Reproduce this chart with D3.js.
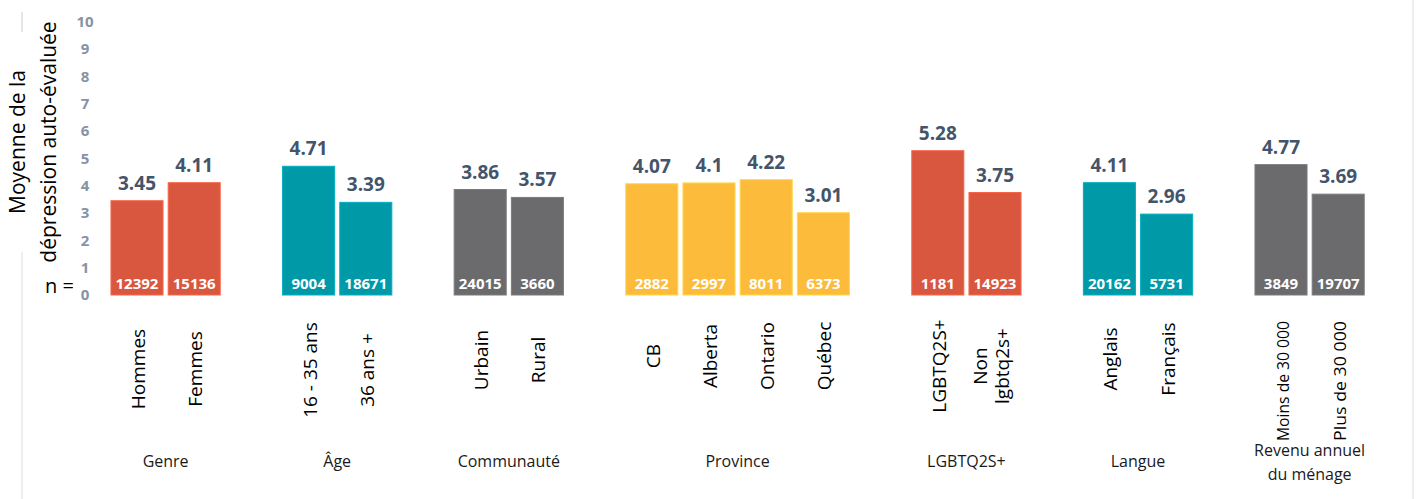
<!DOCTYPE html>
<html>
<head>
<meta charset="utf-8">
<script src="https://cdn.jsdelivr.net/npm/d3@7"></script>
<style>
  body { margin: 0; background: #fff; }
  text { font-family: "Open Sans", "Noto Sans", sans-serif; }
</style>
</head>
<body>
<script>
// data
var groups = ["Genre", "Âge", "Communauté", "Province", "LGBTQ2S+", "Langue", "Revenu annuel\ndu ménage"];
var categories = ["Hommes", "Femmes", "16 - 35 ans", "36 ans +", "Urbain", "Rural",
    "CB", "Alberta", "Ontario", "Québec", "LGBTQ2S+", "Non\nlgbtq2s+",
    "Anglais", "Français", "Moins de 30 000", "Plus de 30 000"];
var categoryGroup = [0, 0, 1, 1, 2, 2, 3, 3, 3, 3, 4, 4, 5, 5, 6, 6];
var means = [3.45, 4.11, 4.71, 3.39, 3.86, 3.57, 4.07, 4.1, 4.22, 3.01, 5.28, 3.75, 4.11, 2.96, 4.77, 3.69];
var counts = [12392, 15136, 9004, 18671, 24015, 3660, 2882, 2997, 8011, 6373, 1181, 14923, 20162, 5731, 3849, 19707];
var yTicks = [0, 1, 2, 3, 4, 5, 6, 7, 8, 9, 10];

// styling
var groupColors = ["#d9573f", "#0099a7", "#6b6b6e", "#fdbb3c", "#d9573f", "#0099a7", "#6b6b6e"];
var labelCenterY = [369, 370, 360, 356, 366, 359, 381];

var svgWidth = 1416;
var svgHeight = 499;

var svg = d3.select("body").append("svg")
    .attr("width", svgWidth)
    .attr("height", svgHeight);

svg.append("rect").attr("width", svgWidth).attr("height", svgHeight).attr("fill", "#fff");

// build slots: categories with an empty slot between groups
var rows = categories.map(function (c, i) {
    return { key: c, name: c, group: categoryGroup[i], mean: means[i], n: counts[i] };
});
var slots = [];
groups.forEach(function (g, gi) {
    rows.filter(function (r) { return r.group === gi; }).forEach(function (r) { slots.push(r.key); });
    if (gi < groups.length - 1) slots.push("gap" + gi);
});

var xScale = d3.scaleBand()
    .domain(slots)
    .range([108.4, 1366.8])
    .paddingInner(0.09)
    .paddingOuter(0.045);

var yScale = d3.scaleLinear()
    .domain([0, 10])
    .range([295, 21.7]);

// y axis (numbers only)
var yAxis = svg.append("g")
    .attr("transform", "translate(85,0)")
    .call(d3.axisLeft(yScale).tickValues(yTicks).tickSize(0).tickPadding(0));
yAxis.select(".domain").remove();
yAxis.selectAll("text")
    .attr("x", 0)
    .attr("text-anchor", "middle")
    .attr("fill", "#8792a5")
    .style("font-size", "15px")
    .style("font-weight", "bold")
    .style("font-family", "'Open Sans', sans-serif");

// axis title
var title = svg.append("text")
    .attr("transform", "translate(0,142) rotate(-90)")
    .attr("text-anchor", "middle")
    .style("font-size", "21px")
    .attr("fill", "#000");
title.append("tspan").attr("x", 0).attr("y", 25).text("Moyenne de la");
title.append("tspan").attr("x", 0).attr("y", 56).text("dépression auto-évaluée");

svg.append("text")
    .attr("x", 74).attr("y", 293)
    .attr("text-anchor", "end")
    .style("font-size", "20px")
    .attr("fill", "#000")
    .text("n =");

// bars
var bars = svg.append("g").selectAll("g")
    .data(rows)
    .enter()
    .append("g");

bars.append("rect")
    .attr("x", function (d) { return xScale(d.key); })
    .attr("y", function (d) { return yScale(d.mean); })
    .attr("width", xScale.bandwidth())
    .attr("height", function (d) { return yScale(0) - yScale(d.mean); })
    .attr("fill", function (d) { return groupColors[d.group]; })
    .attr("stroke", function (d) { return d3.color(groupColors[d.group]).brighter(0.4); })
    .attr("stroke-width", 1);

bars.append("text")
    .attr("x", function (d) { return xScale(d.key) + xScale.bandwidth() / 2; })
    .attr("y", function (d) { return yScale(d.mean) - 11; })
    .attr("text-anchor", "middle")
    .attr("fill", "#44546a")
    .style("font-size", "19px")
    .style("font-weight", "bold")
    .text(function (d) { return d.mean; });

bars.append("text")
    .attr("x", function (d) { return xScale(d.key) + xScale.bandwidth() / 2; })
    .attr("y", yScale(0) - 6)
    .attr("text-anchor", "middle")
    .attr("fill", "#fff")
    .style("font-size", "15px")
    .style("font-weight", "bold")
    .text(function (d) { return d.n; });

// category labels (rotated)
var catLabels = svg.append("g").selectAll("text")
    .data(rows)
    .enter()
    .append("text")
    .attr("transform", function (d) {
        var cx = xScale(d.key) + xScale.bandwidth() / 2;
        return "translate(" + cx + "," + labelCenterY[d.group] + ") rotate(-90)";
    })
    .attr("text-anchor", "middle")
    .attr("fill", "#000")
    .style("font-size", function (d) { return d.group === 6 ? "17px" : "19px"; });

catLabels.each(function (d) {
    var lines = d.name.split("\n");
    var el = d3.select(this);
    if (lines.length === 1) {
        var t = el.append("tspan").attr("x", 0).attr("y", 8).text(lines[0]);
        if (d.group === 6) t.attr("textLength", 120).attr("lengthAdjust", "spacingAndGlyphs");
    } else {
        lines.forEach(function (l, i) {
            el.append("tspan").attr("x", 0).attr("y", -8 + i * 22).text(l);
        });
    }
});

// group labels
var groupLabels = svg.append("g").selectAll("text")
    .data(groups)
    .enter()
    .append("text")
    .attr("text-anchor", "middle")
    .attr("fill", "#1a1a1a")
    .style("font-size", "16px")
    .attr("transform", function (g, gi) {
        var keys = rows.filter(function (r) { return r.group === gi; }).map(function (r) { return r.key; });
        var x0 = xScale(keys[0]);
        var x1 = xScale(keys[keys.length - 1]) + xScale.bandwidth();
        return "translate(" + ((x0 + x1) / 2) + ",0)";
    });

groupLabels.each(function (g) {
    var lines = g.split("\n");
    var el = d3.select(this);
    if (lines.length === 1) {
        el.append("tspan").attr("x", 0).attr("y", 467).text(lines[0]);
    } else {
        lines.forEach(function (l, i) {
            el.append("tspan").attr("x", 0).attr("y", 456 + i * 24).text(l);
        });
    }
});

// faint frame remnants
svg.append("line").attr("x1", 22).attr("x2", 22).attr("y1", 12).attr("y2", 32)
    .attr("stroke", "#e3e6ea").attr("stroke-width", 2);
svg.append("line").attr("x1", 22).attr("x2", 22).attr("y1", 252).attr("y2", 499)
    .attr("stroke", "#eceef1").attr("stroke-width", 2);
svg.append("line").attr("x1", 1413).attr("x2", 1413).attr("y1", 0).attr("y2", 499)
    .attr("stroke", "#eceef1").attr("stroke-width", 2);
</script>
</body>
</html>
